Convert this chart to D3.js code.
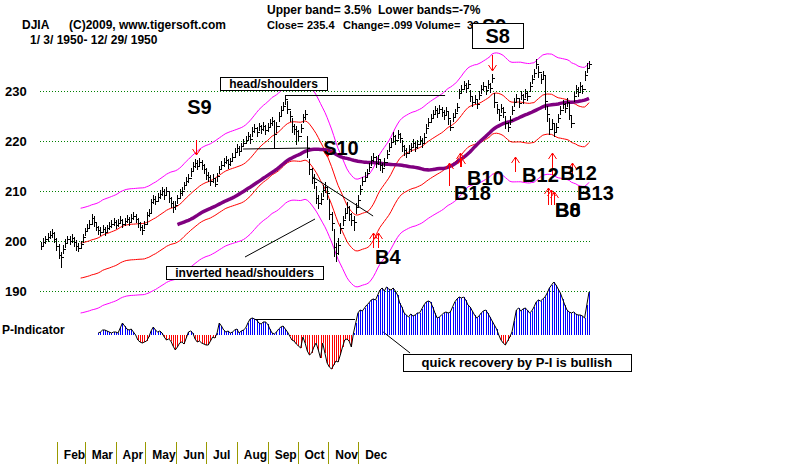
<!DOCTYPE html>
<html>
<head>
<meta charset="utf-8">
<script src="https://cdn.jsdelivr.net/npm/d3@7"></script>
<style>
body { margin: 0; background: #fff; }
svg { display: block; }
text { font-family: "Liberation Sans", Arial, sans-serif; font-weight: bold; fill: #000; }
</style>
</head>
<body>
<svg id="chart" width="800" height="465"></svg>
<script>
// DJIA daily bars, 1/3/1950 - 12/29/1950 (one per trading day)
const closes = [
  199.0, 199.8, 200.3, 200.8, 201.2, 201.6, 200.4, 199.0, 197.2, 196.8,
  198.5, 199.6, 200.3, 200.0, 200.6, 199.8, 199.0, 198.6, 199.3, 200.8,
  202.0, 202.6, 203.5, 204.6, 203.8, 202.8, 202.2, 201.8, 202.5, 201.9,
  202.6, 203.0, 203.4, 203.8, 203.2, 203.6, 204.2, 203.5, 203.9, 204.4,
  203.8, 204.6, 205.0, 204.5, 203.6, 202.8, 202.2, 203.4, 205.2, 205.6,
  207.8, 208.4, 208.0, 208.8, 209.4, 209.9, 209.2, 210.0, 208.6, 207.6,
  206.8, 207.2, 208.6, 209.6, 210.0, 211.2, 212.0, 212.6, 214.0, 215.0,
  215.6, 215.0, 215.8, 215.2, 214.4, 213.2, 212.8, 212.0, 212.6, 211.5,
  213.0, 214.4, 215.2, 215.8, 216.2, 215.4, 215.9, 216.8, 217.8, 218.6,
  218.0, 218.9, 219.6, 220.2, 221.0, 220.4, 222.0, 222.6, 221.8, 222.9,
  222.3, 223.0, 222.2, 222.8, 223.6, 224.0, 221.5, 223.0, 225.0, 226.2,
  227.0, 228.4, 226.4, 225.0, 223.0, 222.4, 222.0, 221.0, 222.6, 224.8,
  225.4, 218.6, 214.4, 212.6, 211.8, 208.6, 207.6, 208.4, 210.2, 210.8,
  209.6, 205.4, 203.6, 198.8, 197.6, 199.2, 202.6, 204.2, 205.6, 206.8,
  205.4, 204.2, 203.8, 206.8, 208.2, 210.4, 212.0, 212.8, 213.6, 214.8,
  216.2, 216.8, 215.6, 216.4, 215.2, 214.6, 215.8, 217.4, 218.8, 219.8,
  221.0, 220.2, 221.4, 220.6, 219.0, 218.2, 217.6, 218.4, 218.8, 219.6,
  218.8, 219.4, 220.2, 219.6, 220.8, 222.6, 223.8, 224.6, 225.4, 226.2,
  225.6, 226.4, 225.8, 225.2, 226.0, 224.6, 222.8, 224.8, 225.6, 226.8,
  229.6, 230.4, 231.2, 230.6, 231.4, 229.0, 227.8, 228.4, 227.4, 229.2,
  230.4, 231.0, 230.2, 231.4, 230.6, 232.6, 227.8, 226.4, 225.2, 226.6,
  225.8, 223.6, 222.8, 224.2, 226.2, 227.8, 228.6, 227.6, 229.2, 228.4,
  229.6, 229.0, 231.0, 232.4, 233.6, 235.4, 233.8, 232.4, 233.2, 228.0,
  225.4, 222.4, 223.6, 221.8, 222.8, 224.6, 226.2, 227.4, 226.6, 227.8,
  225.2, 223.6, 229.0, 230.4, 229.8, 231.0, 230.4, 233.2, 234.6, 235.4
];
const highs = [
  199.8, 200.6, 201.0, 201.6, 202.0, 202.4, 201.8, 200.6, 199.4, 197.8,
  199.2, 200.4, 201.0, 201.0, 201.4, 200.8, 200.2, 199.6, 200.0, 201.4,
  202.6, 203.4, 204.2, 205.4, 205.0, 203.8, 203.0, 202.8, 203.2, 202.8,
  203.2, 203.8, 204.2, 204.6, 204.2, 204.4, 205.0, 204.4, 204.6, 205.2,
  204.8, 205.4, 205.8, 205.4, 204.6, 203.8, 203.2, 204.0, 205.8, 206.4,
  208.4, 209.2, 209.0, 209.6, 210.2, 210.8, 210.4, 210.8, 209.8, 208.8,
  208.0, 208.0, 209.2, 210.4, 210.8, 211.8, 212.8, 213.4, 214.6, 215.8,
  216.4, 216.2, 216.6, 216.2, 215.4, 214.6, 213.8, 213.2, 213.4, 212.6,
  213.6, 215.0, 216.0, 216.6, 217.0, 216.4, 216.6, 217.6, 218.6, 219.4,
  219.0, 219.6, 220.4, 221.0, 221.8, 221.4, 222.8, 223.4, 222.8, 223.6,
  223.2, 223.8, 223.2, 223.6, 224.4, 224.8, 224.2, 223.8, 225.8, 227.0,
  227.8, 229.2, 228.0, 226.0, 224.6, 223.4, 223.0, 222.2, 223.4, 225.4,
  226.2, 221.0, 216.4, 214.6, 213.4, 211.0, 209.2, 209.6, 211.2, 211.8,
  211.0, 208.4, 205.8, 202.4, 199.6, 200.6, 203.6, 205.0, 206.6, 207.8,
  207.0, 205.6, 205.0, 207.6, 209.2, 211.2, 212.8, 213.8, 214.4, 215.6,
  217.0, 217.6, 217.0, 217.2, 216.4, 215.6, 216.6, 218.2, 219.6, 220.6,
  221.8, 221.2, 222.2, 221.6, 220.2, 219.2, 218.6, 219.2, 219.6, 220.4,
  219.8, 220.2, 221.0, 220.6, 221.6, 223.4, 224.6, 225.4, 226.2, 227.0,
  226.6, 227.2, 226.8, 226.2, 226.8, 225.8, 224.2, 225.6, 226.4, 227.6,
  230.4, 231.2, 232.0, 231.6, 232.2, 230.2, 228.8, 229.2, 228.4, 230.0,
  231.2, 231.8, 231.0, 232.2, 231.6, 233.4, 229.6, 227.4, 226.4, 227.4,
  226.8, 225.0, 223.8, 225.0, 227.0, 228.6, 229.4, 228.6, 230.0, 229.4,
  230.4, 230.0, 231.8, 233.2, 234.4, 236.4, 235.0, 233.4, 234.0, 233.0,
  227.0, 224.6, 224.4, 223.4, 223.6, 225.4, 227.0, 228.2, 227.6, 228.6,
  227.6, 225.0, 229.8, 231.2, 230.8, 231.8, 231.2, 234.0, 235.6, 236.0
];
const lows = [
  198.2, 198.8, 199.4, 199.8, 200.4, 200.6, 199.6, 198.0, 196.4, 194.6,
  197.4, 198.6, 199.4, 199.2, 199.6, 198.8, 198.0, 197.8, 198.4, 199.6,
  201.0, 201.8, 202.6, 203.4, 202.8, 202.0, 201.2, 201.0, 201.6, 201.0,
  201.8, 202.2, 202.6, 203.0, 202.4, 202.8, 203.4, 202.6, 203.0, 203.6,
  203.0, 203.8, 204.2, 203.6, 202.6, 202.0, 201.2, 202.4, 203.4, 204.8,
  205.6, 207.4, 207.2, 207.8, 208.4, 209.0, 208.2, 209.0, 207.6, 206.6,
  205.6, 206.2, 207.4, 208.6, 209.0, 210.2, 211.0, 211.6, 212.8, 214.0,
  214.6, 214.2, 214.8, 214.2, 213.4, 212.2, 211.8, 211.0, 211.6, 210.8,
  211.8, 213.4, 214.4, 214.8, 215.4, 214.4, 215.0, 215.8, 216.8, 217.8,
  217.0, 218.0, 218.8, 219.4, 220.0, 219.4, 220.8, 221.6, 220.8, 222.0,
  221.4, 222.0, 221.2, 221.8, 222.6, 223.0, 218.4, 221.6, 223.8, 225.0,
  226.0, 227.2, 225.4, 223.8, 221.6, 221.2, 219.2, 220.0, 221.6, 223.6,
  224.2, 216.6, 213.2, 211.4, 210.4, 207.4, 206.4, 207.2, 208.8, 209.6,
  208.2, 204.2, 202.0, 196.8, 195.8, 197.2, 201.4, 203.0, 204.4, 205.6,
  204.0, 203.0, 202.0, 205.4, 207.0, 209.2, 211.0, 211.8, 212.6, 213.8,
  215.0, 215.8, 214.6, 215.2, 214.0, 213.6, 214.8, 216.4, 217.8, 218.6,
  219.8, 219.2, 220.4, 219.6, 217.8, 217.0, 216.6, 217.4, 217.8, 218.6,
  217.8, 218.4, 219.2, 218.6, 219.6, 221.4, 222.8, 223.6, 224.4, 225.2,
  224.6, 225.4, 224.8, 224.2, 225.0, 223.2, 222.0, 223.8, 224.6, 225.8,
  228.4, 229.4, 230.2, 229.6, 230.4, 227.8, 226.8, 227.4, 226.4, 228.2,
  229.4, 230.0, 229.2, 230.4, 229.6, 231.6, 226.6, 225.4, 224.0, 225.6,
  224.6, 222.4, 221.8, 223.2, 225.2, 226.8, 227.6, 226.6, 228.2, 227.4,
  228.6, 228.0, 229.8, 231.4, 232.6, 234.4, 232.6, 231.4, 232.2, 226.2,
  223.8, 221.2, 222.4, 220.8, 221.6, 223.6, 225.2, 226.4, 225.6, 226.8,
  224.2, 222.6, 227.8, 229.4, 228.8, 230.0, 229.4, 232.0, 233.6, 234.6
];

// P-Indicator, starting at bar 26
const pStart = 26;
const pIndicator = [
  2, 3, 5, 5, 4, 3, 2, 3, 3, 2,
  7, 12, 9, 6, 5, 6, 3, 0, -5, -7,
  -8, -7, -6, -2, 4, 8, 5, 3, 4, 2,
  -2, -5, -4, -6, -11, -15, -12, -8, -7, -9,
  -3, 3, 4, 2, -4, -7, -6, -8, -9, -10,
  -10, -6, -2, -3, 2, 12, 9, 5, 3, 4,
  2, 3, 5, 6, 2, 4, 5, 7, 12, 16,
  17, 16, 15, 12, 11, 13, 13, 11, 6, 2,
  1, 3, 6, 8, 9, 6, 3, -1, -5, -6,
  -9, -11, -13, -2, -8, -16, -20, -18, -12, -8,
  -15, -23, -8, -18, -28, -32, -34, -30, -26, -27,
  -20, -12, -5, -4, -6, -12, 2, 12, 22, 25,
  24, 27, 30, 32, 35, 36, 35, 40, 45, 47,
  44, 48, 46, 45, 47, 44, 40, 32, 28, 22,
  20, 18, 21, 19, 20, 22, 22, 26, 30, 33,
  34, 33, 28, 22, 17, 18, 20, 22, 23, 22,
  23, 28, 33, 36, 38, 37, 38, 35, 30, 28,
  24, 20, 17, 19, 22, 24, 25, 22, 18, 14,
  10, 6, 0, -5, -8, -10, -6, -2, 3, 14,
  25, 27, 24, 26, 27, 25, 22, 24, 28, 33,
  35, 34, 36, 38, 42, 47, 50, 53, 50, 46,
  42, 36, 30, 25, 23, 22, 23, 21, 20, 20,
  19, 17, 30, 43
];

const yTicks = [190, 200, 210, 220, 230];
const monthNames = ['Feb', 'Mar', 'Apr', 'May', 'Jun', 'Jul', 'Aug', 'Sep', 'Oct', 'Nov', 'Dec'];
const maShort = 19, maLong = 63;
const upperBand = 0.035, lowerBand = 0.07;

// signal labels: text, bar index, price at text baseline
const signalText = [
  ['S9', 66.4, 225.4], ['S10', 128.2, 217.2], ['B10', 193.6, 211.2], ['B18', 187.7, 208.2],
  ['B12', 218.6, 211.8], ['B12', 235.9, 212.2], ['B13', 243.6, 208.2], ['B8', 233.6, 204.8],
  ['B0', 233.6, 204.8], ['B4', 151.8, 195.4]
];
// signal arrows: bar index, price at tail, price at tip
const signalArrows = [
  [70.5, 220.2, 217.2], [130, 218.2, 216.8], [205, 237.2, 234.0],
  [185.5, 211.0, 215.6], [190.5, 214.8, 217.6], [190.8, 214.8, 216.6],
  [215.5, 213.8, 216.8], [232.3, 213.2, 217.6], [241.4, 212.8, 215.6],
  [230.5, 207.2, 210.6], [231.8, 207.2, 210.2], [233.2, 207.2, 209.8],
  [150.9, 198.6, 201.6], [153.2, 198.6, 201.6]
];

const svg = d3.select('#chart');

const x = d3.scaleLinear().domain([0, closes.length - 1]).range([41, 589]);
const y = d3.scaleLinear().domain([190, 230]).range([291, 91]);
const yP = d3.scaleLinear().domain([0, 50]).range([335, 285]);
const xMonth = d3.scaleTime().domain([new Date(1950, 0, 1), new Date(1951, 0, 1)]).range([26, 389]);
const px = i => Math.round(x(i)) + 0.5;

// header
const head = svg.append('g').style('font-size', '12px');
head.append('text').attr('x', 267).attr('y', 14).attr('xml:space', 'preserve').text('Upper band= 3.5%  Lower bands=-7%');
head.append('text').attr('x', 22).attr('y', 29).text('DJIA');
head.append('text').attr('x', 69).attr('y', 29).text('(C)2009, www.tigersoft.com');
const info = [['Close=', 267], ['235.4', 307], ['Change=', 343], ['.099', 391], ['Volume=', 415], ['39', 467]];
head.selectAll('text.info').data(info).join('text').attr('class', 'info')
  .attr('x', d => d[1]).attr('y', 29).style('font-size', '11px')
  .text(d => d[0]);
head.append('text').attr('x', 30).attr('y', 44).attr('xml:space', 'preserve').text('1/ 3/ 1950- 12/ 29/ 1950');
svg.append('text').attr('x', 482).attr('y', 33).style('font-size', '20px').text('S9');

// grid + y labels
svg.append('g').selectAll('line').data(yTicks).join('line')
  .attr('x1', 40).attr('x2', 592)
  .attr('y1', d => Math.round(y(d)) + 0.5).attr('y2', d => Math.round(y(d)) + 0.5)
  .attr('stroke', '#008000').attr('stroke-dasharray', '1,2');
svg.append('g').selectAll('text').data(yTicks).join('text')
  .attr('x', 5).attr('y', d => y(d) + 5)
  .style('font-size', '13px')
  .text(d => d);

// moving averages and bands
function movingAvg(arr, n) {
  return arr.map((v, i) => i < n - 1 ? null : d3.mean(arr.slice(i - n + 1, i + 1)));
}
const ma = movingAvg(closes, maShort);
const maL = movingAvg(closes, maLong);
const line = d3.line().defined(d => d[1] != null).x(d => x(d[0])).y(d => y(d[1]));
const series = (arr, k) => arr.map((v, i) => [i, v == null ? null : v * k]);

svg.append('path').attr('d', line(series(ma, 1 + upperBand))).attr('fill', 'none').attr('stroke', '#ff00ff');
svg.append('path').attr('d', line(series(ma, 1 - lowerBand))).attr('fill', 'none').attr('stroke', '#ff00ff');
svg.append('path').attr('d', line(series(ma, 1))).attr('fill', 'none').attr('stroke', '#ff0000');
svg.append('path').attr('d', line(series(ma, 1 - upperBand))).attr('fill', 'none').attr('stroke', '#ff0000');
svg.append('path').attr('d', line(series(maL, 1))).attr('fill', 'none').attr('stroke', '#800080').attr('stroke-width', 3.5);

// price bars
const bars = svg.append('g').attr('stroke', '#000').attr('shape-rendering', 'crispEdges');
bars.selectAll('line.hl').data(d3.range(closes.length)).join('line').attr('class', 'hl')
  .attr('x1', px).attr('x2', px)
  .attr('y1', i => y(highs[i])).attr('y2', i => y(lows[i]));
bars.selectAll('line.c').data(d3.range(closes.length)).join('line').attr('class', 'c')
  .attr('x1', px).attr('x2', i => px(i) + 2)
  .attr('y1', i => Math.round(y(closes[i])) + 0.5).attr('y2', i => Math.round(y(closes[i])) + 0.5);
bars.selectAll('line.o').data(d3.range(1, closes.length)).join('line').attr('class', 'o')
  .attr('x1', i => px(i) - 2).attr('x2', px)
  .attr('y1', i => Math.round(y(closes[i - 1])) + 0.5).attr('y2', i => Math.round(y(closes[i - 1])) + 0.5);

// annotation lines
const ann = svg.append('g').attr('stroke', '#000').attr('fill', 'none');
ann.append('line').attr('x1', x(110.9)).attr('x2', x(183.6)).attr('y1', Math.round(y(229.2)) + 0.5).attr('y2', Math.round(y(229.2)) + 0.5);
ann.append('line').attr('x1', x(91.8)).attr('x2', x(122.3)).attr('y1', y(218.4)).attr('y2', y(218.6));
ann.append('line').attr('x1', x(92.7)).attr('x2', x(124.5)).attr('y1', y(196.8)).attr('y2', y(204.4));
ann.append('line').attr('x1', x(123.6)).attr('x2', x(150.9)).attr('y1', y(212.8)).attr('y2', y(205));
ann.append('line').attr('x1', x(97.3)).attr('x2', x(142.7)).attr('y1', Math.round(yP(16)) + 0.5).attr('y2', Math.round(yP(16)) + 0.5);
ann.append('line').attr('x1', x(155.5)).attr('x2', x(167.7)).attr('y1', yP(3)).attr('y2', yP(-18));

// signal arrows
const arr = svg.append('g').attr('stroke', '#ff0000').attr('fill', 'none');
signalArrows.forEach(([i, v0, v1]) => {
  const xa = px(i), y0 = y(v0), y1 = y(v1), s = y1 < y0 ? 1 : -1;
  arr.append('path').attr('d', `M${xa},${y0}L${xa},${y1}M${xa - 4},${y1 + 6 * s}L${xa},${y1}L${xa + 4},${y1 + 6 * s}`);
});

// signal labels
svg.append('g').selectAll('text').data(signalText).join('text')
  .attr('x', d => x(d[1])).attr('y', d => y(d[2]))
  .style('font-size', '20px')
  .text(d => d[0]);

// P-Indicator
const pData = pIndicator.map((v, k) => [pStart + k, v]);
svg.append('g').attr('shape-rendering', 'crispEdges').selectAll('line').data(pData).join('line')
  .attr('x1', d => px(d[0])).attr('x2', d => px(d[0]))
  .attr('y1', yP(0)).attr('y2', d => yP(d[1]))
  .attr('stroke', d => d[1] >= 0 ? '#0000ff' : '#ff0000');
svg.append('path')
  .attr('d', d3.line().x(d => x(d[0])).y(d => yP(d[1]))(pData))
  .attr('fill', 'none').attr('stroke', '#000');
svg.append('text').attr('x', 2).attr('y', 334).style('font-size', '12px').text('P-Indicator');

// boxed notes
function note(x0, y0, x1, y1, txt, size) {
  const g = svg.append('g');
  g.append('rect').attr('x', Math.round(x0) + 0.5).attr('y', Math.round(y0) + 0.5)
    .attr('width', Math.round(x1 - x0)).attr('height', Math.round(y1 - y0))
    .attr('fill', '#fff').attr('stroke', '#000');
  g.append('text').attr('x', (x0 + x1) / 2).attr('y', (y0 + y1) / 2 + size * 0.36)
    .attr('text-anchor', 'middle').style('font-size', size + 'px').text(txt);
}
note(x(81.4), y(232.8), x(130), y(230.2), 'head/shoulders', 12);
note(x(56.8), y(195), x(128.2), y(192.4), 'inverted head/shoulders', 12);
note(x(164.5), yP(-19), x(268), yP(-36), 'quick recovery by P-I is bullish', 13);
note(x(195.9), y(243.6), x(219.1), y(238.6), 'S8', 20);

// month axis
const months = monthNames.map((m, k) => [m, new Date(1950, k + 1, 1)]);
const mAxis = svg.append('g');
mAxis.selectAll('line').data(months).join('line')
  .attr('x1', d => Math.round(xMonth(d[1])) + 0.5).attr('x2', d => Math.round(xMonth(d[1])) + 0.5)
  .attr('y1', 442).attr('y2', 464)
  .attr('stroke', '#999900');
mAxis.selectAll('text').data(months).join('text')
  .attr('x', d => xMonth(d[1]) + 7).attr('y', 459)
  .style('font-family', '"Liberation Sans Narrow", "Arial Narrow", sans-serif')
  .style('font-size', '12px')
  .text(d => d[0]);
</script>
</body>
</html>
